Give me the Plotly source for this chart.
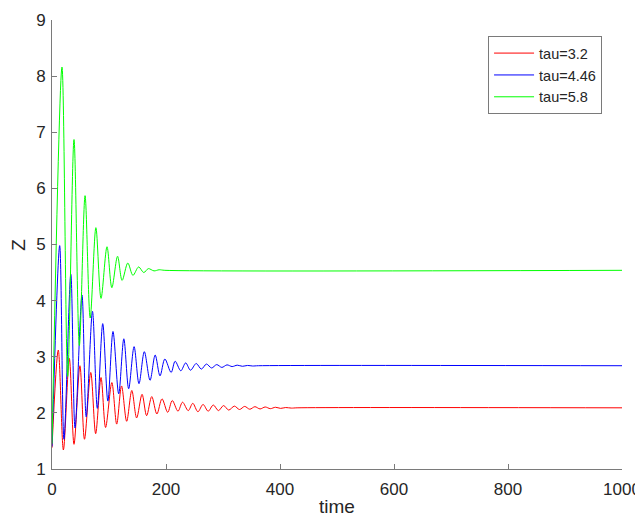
import plotly.graph_objects as go

t_red = [0, 11, 20, 30.4, 38.6, 49, 57, 68, 76.6, 86, 94, 105, 113.5, 122, 131, 140,
         148.5, 158, 166, 175, 184, 193, 203, 211, 221, 229, 239, 247, 256, 265, 274,
         283, 292, 301, 310, 320, 329, 338, 347, 356, 365, 374, 383, 392, 401, 410,
         420, 430, 1000]
z_red = [1.38, 3.12, 1.34, 2.97, 1.44, 2.84, 1.53, 2.72, 1.63, 2.63, 1.74, 2.54, 1.80,
         2.48, 1.85, 2.40, 1.91, 2.33, 1.95, 2.29, 1.98, 2.25, 2.01, 2.22, 2.03, 2.19,
         2.04, 2.17, 2.02, 2.15, 2.03, 2.14, 2.04, 2.13, 2.05, 2.12, 2.06, 2.115, 2.065,
         2.11, 2.07, 2.105, 2.075, 2.10, 2.08, 2.095, 2.085, 2.09, 2.09]

# tau = 4.46 (blue)
t_blue = [0, 13.5, 21, 33, 40.4, 52.6, 60, 71, 79.5, 89, 98, 107, 117, 126, 134.5, 144,
          152.6, 162, 172, 181, 189.5, 198, 209, 216, 226, 234.5, 243, 253, 262, 271,
          280, 289, 298, 307, 316, 325, 334, 343, 352, 362, 1000]
z_blue = [1.40, 4.98, 1.53, 4.47, 1.73, 4.10, 1.93, 3.81, 2.08, 3.59, 2.21, 3.45, 2.34,
          3.32, 2.43, 3.18, 2.52, 3.09, 2.58, 3.03, 2.66, 2.96, 2.72, 2.92, 2.75, 2.89,
          2.76, 2.88, 2.78, 2.87, 2.80, 2.86, 2.81, 2.855, 2.825, 2.85, 2.83, 2.845,
          2.835, 2.84, 2.84]

# tau = 5.8 (green)
t_green = [0, 17.5, 27.5, 38.6, 48, 58, 67, 77, 86, 96.5, 105, 115, 123, 133, 142, 152,
           161, 169, 179, 188, 198, 1000]
z_green = [1.45, 8.16, 2.65, 6.87, 3.20, 5.87, 3.69, 5.30, 4.04, 4.96, 4.23, 4.79, 4.36,
           4.67, 4.45, 4.60, 4.50, 4.57, 4.53, 4.55, 4.54, 4.54]

series_names = ["tau=3.2", "tau=4.46", "tau=5.8"]
series_colors = ["#ff0000", "#0000ff", "#00ff00"]
x_ticks = [0, 200, 400, 600, 800, 1000]
y_ticks = [1, 2, 3, 4, 5, 6, 7, 8, 9]

fig = go.Figure()
for t, z, name, col in zip([t_red, t_blue, t_green], [z_red, z_blue, z_green],
                           series_names, series_colors):
    fig.add_trace(go.Scatter(x=t, y=z, mode="lines", name=name,
                             line=dict(color=col, width=1, shape="spline", smoothing=0.9)))

text_col = "#262626"
line_col = "#7a7a7a"
# the page body adds an 8px offset, so the figure is 8px smaller on each leading side
fig.update_layout(
    width=635, height=513,
    margin=dict(l=44, r=21, t=12, b=52),
    paper_bgcolor="white", plot_bgcolor="white",
    font=dict(family="Liberation Sans, Arial", size=17, color=text_col),
    xaxis=dict(range=[0, 1000], tickvals=x_ticks, ticks="inside", ticklen=5,
               tickcolor=line_col, showline=True, linecolor=line_col, linewidth=1,
               showgrid=False, zeroline=False, mirror=False, automargin=False,
               ticklabelstandoff=5, tickfont=dict(size=17)),
    yaxis=dict(range=[1, 9], tickvals=y_ticks, ticks="inside", ticklen=5,
               tickcolor=line_col, showline=True, linecolor=line_col, linewidth=1,
               showgrid=False, zeroline=False, mirror=False, automargin=False,
               ticklabelstandoff=2, tickfont=dict(size=17)),
    legend=dict(x=0.765, y=0.964, xanchor="left", yanchor="top",
                bgcolor="white", bordercolor=line_col, borderwidth=1,
                font=dict(size=14.5), itemwidth=40),
    showlegend=True,
    annotations=[
        dict(text="time", xref="paper", yref="paper", x=0.5, y=-0.0846,
             xanchor="center", yanchor="middle", showarrow=False,
             font=dict(size=19, color=text_col)),
        dict(text="Z", xref="paper", yref="paper", x=-0.0584, y=0.499,
             xanchor="center", yanchor="middle", showarrow=False, textangle=-90,
             font=dict(size=19, color=text_col)),
    ],
)

fig.write_html("out.html")
